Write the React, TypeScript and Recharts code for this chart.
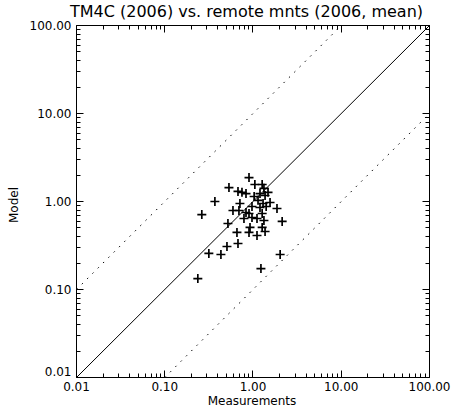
import React from 'react';
import { ScatterChart, Scatter, XAxis, YAxis, ReferenceLine } from 'recharts';

const measurements = [
  0.237, 0.316, 0.433, 0.507, 0.676, 0.658, 0.52, 0.263, 0.37, 0.534,
  0.676, 0.75, 0.833, 0.901, 1.05, 1.27, 1.33, 1.2, 1.37, 1.48,
  1.03, 1.14, 1.56, 1.3, 1.41, 1.87, 0.711, 0.593, 0.693, 0.833,
  0.79, 0.901, 0.974, 1.11, 1.27, 1.33, 1.27, 1.37, 0.925, 0.901,
  1.11, 2.14, 2.03, 1.23, 0.974, 1.2,
];
const model = [
  0.133, 0.257, 0.25, 0.308, 0.333, 0.445, 0.562, 0.711, 1.0, 1.44,
  1.3, 1.27, 1.23, 1.87, 1.56, 1.56, 1.41, 1.23, 1.17, 1.27,
  1.14, 1.03, 0.974, 0.949, 0.877, 0.833, 0.949, 0.79, 0.79, 0.75,
  0.641, 0.731, 0.658, 0.641, 0.731, 0.608, 0.507, 0.456, 0.507, 0.445,
  0.411, 0.593, 0.25, 0.173, 0.877, 0.855,
];
const majorTicks = [0.01, 0.1, 1, 10, 100];
const lineRatios = [1, 10, 0.1];
const title = 'TM4C (2006) vs. remote mnts (2006, mean)';
const xTitle = 'Measurements';
const yTitle = 'Model';

const FONT = 'DejaVu Sans';
const MAJ = 7;
const MIN = 4;

const W = 452;
const H = 418;
const M = { top: 24.5, right: 21.5, left: 16.5, bottom: 10.5 };
const X_AXIS_H = 30;
const Y_AXIS_W = 60;
const PLOT_TOP = M.top + 1;
const PLOT_BOTTOM = H - M.bottom - X_AXIS_H;
const PLOT_LEFT = M.left + Y_AXIS_W;
const PLOT_RIGHT = W - M.right - 1;

const allTicks: number[] = [];
majorTicks.forEach((d, i) => {
  allTicks.push(d);
  if (i < majorTicks.length - 1) {
    for (let k = 2; k <= 9; k++) allTicks.push(Number((d * k).toPrecision(3)));
  }
});

const data = measurements.map((m, i) => ({ x: m, y: model[i] }));
const lo = majorTicks[0];
const hi = majorTicks[majorTicks.length - 1];
const segments = lineRatios.map((r) => {
  const x0 = Math.max(lo, lo / r);
  const x1 = Math.min(hi, hi / r);
  return { r, seg: [{ x: x0, y: x0 * r }, { x: x1, y: x1 * r }] };
});

const isMajor = (v: number) => Math.abs(Math.log10(v) - Math.round(Math.log10(v))) < 1e-6;
const fmt = (v: number) => v.toFixed(2);
const crisp = (c: number) => Math.round(c - 0.5) + 0.5;
const TICK_STROKE = { stroke: '#000000', strokeWidth: 1, fill: 'none' };

const BottomTick = (p: any) => {
  const v = p.payload.value;
  const c = crisp(p.x);
  const len = isMajor(v) ? MAJ : MIN;
  return (
    <g>
      <path d={`M${c},${PLOT_BOTTOM}V${PLOT_BOTTOM - len}`} {...TICK_STROKE} />
      {isMajor(v) && (
        <text x={p.x} y={PLOT_BOTTOM + 13} textAnchor="middle" fontSize={12} fontFamily={FONT} fill="#000">
          {fmt(v)}
        </text>
      )}
    </g>
  );
};
const TopTick = (p: any) => {
  const v = p.payload.value;
  const c = crisp(p.x);
  const len = isMajor(v) ? MAJ : MIN;
  return <path d={`M${c},${PLOT_TOP}V${PLOT_TOP + len}`} {...TICK_STROKE} />;
};
const LeftTick = (p: any) => {
  const v = p.payload.value;
  const c = crisp(p.y);
  const len = isMajor(v) ? MAJ : MIN;
  const shift = v === lo ? -6 : 0;
  return (
    <g>
      <path d={`M${PLOT_LEFT},${c}H${PLOT_LEFT + len}`} {...TICK_STROKE} />
      {isMajor(v) && (
        <text x={PLOT_LEFT - 5} y={p.y + 4.5 + shift} textAnchor="end" fontSize={12} fontFamily={FONT} fill="#000">
          {fmt(v)}
        </text>
      )}
    </g>
  );
};
const RightTick = (p: any) => {
  const v = p.payload.value;
  const c = crisp(p.y);
  const len = isMajor(v) ? MAJ : MIN;
  return <path d={`M${PLOT_RIGHT},${c}H${PLOT_RIGHT - len}`} {...TICK_STROKE} />;
};

const Plus = (p: any) => {
  const { cx, cy } = p;
  const a = 4.5;
  return (
    <path
      d={`M${cx - a},${cy}H${cx + a}M${cx},${cy - a}V${cy + a}`}
      stroke="#000"
      strokeWidth={1.7}
      fill="none"
    />
  );
};

const axisCommon = {
  type: 'number' as const,
  scale: 'log' as const,
  domain: [lo, hi],
  allowDataOverflow: true,
  ticks: allTicks,
  interval: 0 as const,
  tickSize: 0,
  tickMargin: 0,
  tickLine: false,
  axisLine: { stroke: '#000', strokeWidth: 1 },
};

export default function App() {
  return (
    <div style={{ position: 'absolute', left: 0, top: 0, width: W, height: H, background: '#fff' }}>
      <ScatterChart width={W} height={H} margin={M}>
        {segments.map((s) => (
          <ReferenceLine
            key={s.r}
            xAxisId="b"
            yAxisId="l"
            segment={s.seg}
            stroke="#000"
            strokeWidth={1}
            strokeDasharray={s.r === 1 ? undefined : '1.5 6'}
          />
        ))}
        <Scatter data={data} xAxisId="b" yAxisId="l" shape={Plus} isAnimationActive={false} />
        <Scatter data={data} xAxisId="t" yAxisId="r" shape={() => null} isAnimationActive={false} />
        <XAxis {...axisCommon} dataKey="x" xAxisId="b" orientation="bottom" height={X_AXIS_H} tick={BottomTick} />
        <XAxis {...axisCommon} dataKey="x" xAxisId="t" orientation="top" height={1} tick={TopTick} />
        <YAxis {...axisCommon} dataKey="y" yAxisId="l" orientation="left" width={Y_AXIS_W} tick={LeftTick} />
        <YAxis {...axisCommon} dataKey="y" yAxisId="r" orientation="right" width={1} tick={RightTick} />
      </ScatterChart>
      <svg width={W} height={H} style={{ position: 'absolute', left: 0, top: 0, pointerEvents: 'none' }}>
        <text x={246.5} y={17} textAnchor="middle" fontSize={16} fontFamily={FONT} fill="#000">
          {title}
        </text>
        <text x={252} y={405} textAnchor="middle" fontSize={12} fontFamily={FONT} fill="#000">
          {xTitle}
        </text>
        <text x={18} y={205} transform="rotate(-90 18 205)" textAnchor="middle" fontSize={12} fontFamily={FONT} fill="#000">
          {yTitle}
        </text>
      </svg>
    </div>
  );
}
